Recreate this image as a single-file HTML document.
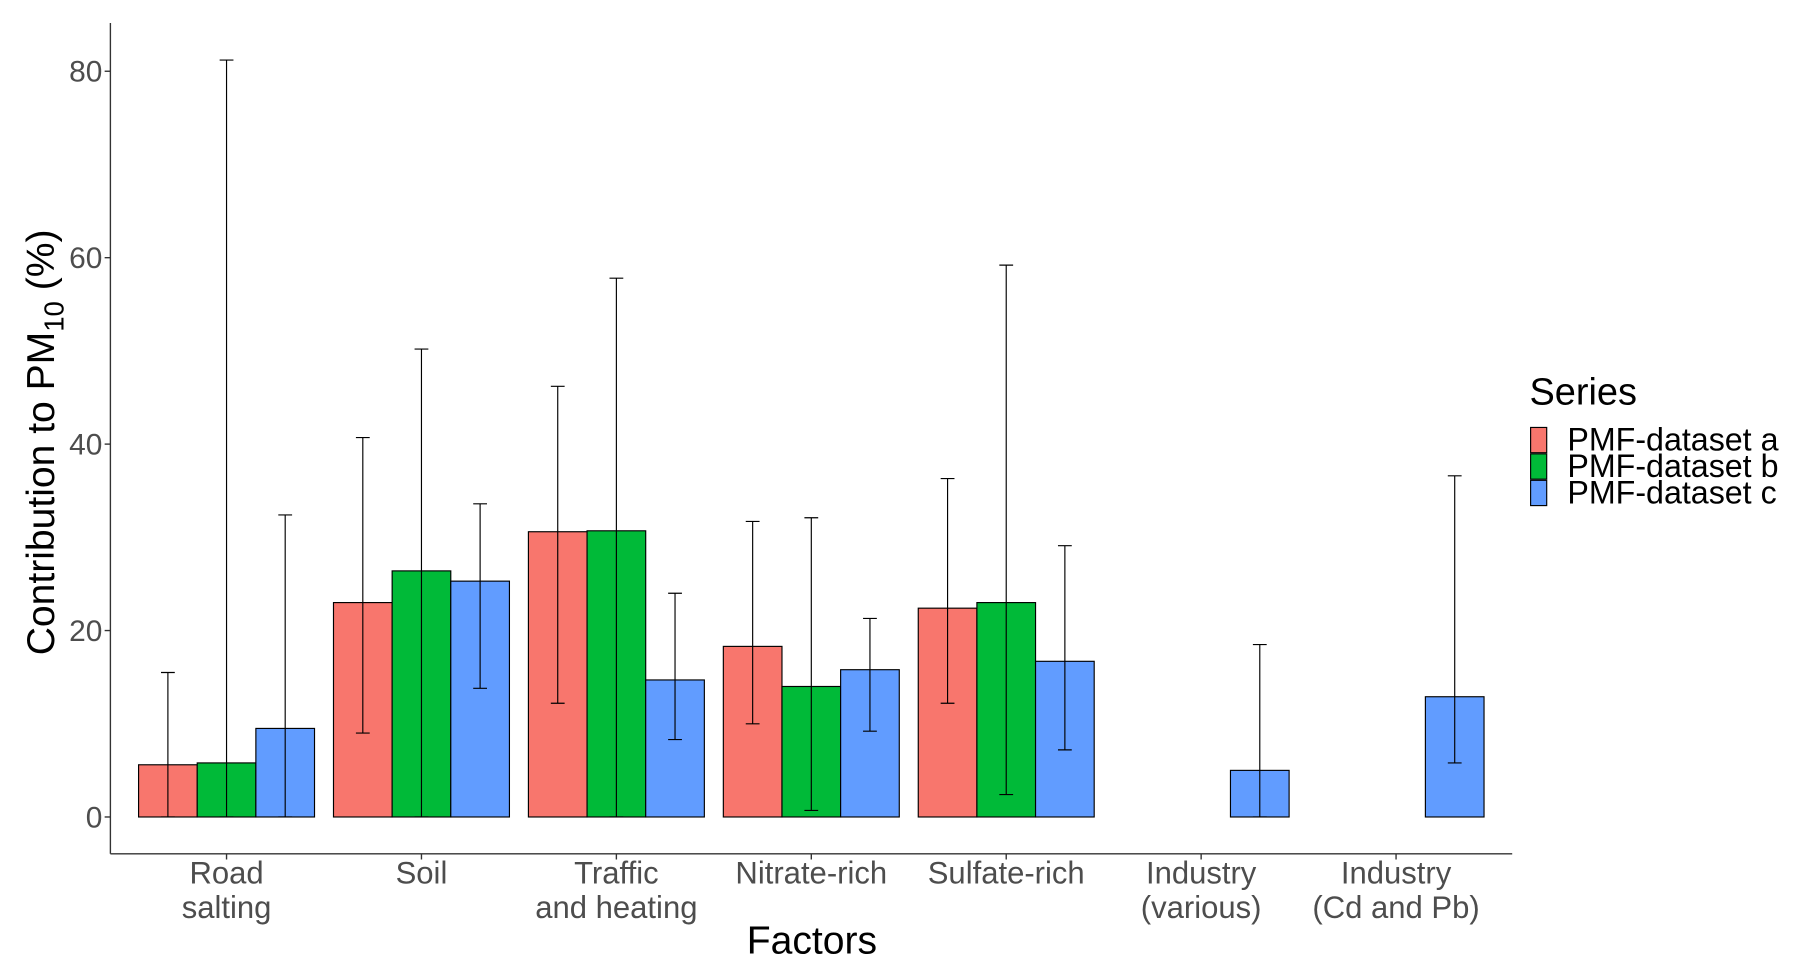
<!DOCTYPE html>
<html><head><meta charset="utf-8"><style>
html,body{margin:0;padding:0;background:#fff;}
svg{display:block;font-family:"Liberation Sans",sans-serif;}
</style></head><body>
<svg id="chart" width="1802" height="979" viewBox="0 0 1567 852" preserveAspectRatio="none" xmlns="http://www.w3.org/2000/svg">
<g id="plot"></g>
<line x1="96" y1="20" x2="96" y2="743" stroke="#333" stroke-width="1.2"/>
<line x1="96" y1="743" x2="1315" y2="743" stroke="#333" stroke-width="1.2"/>
<text x="706" y="830" text-anchor="middle" font-size="34">Factors</text>
<text transform="translate(47,385) rotate(-90)" text-anchor="middle" font-size="34">Contribution to PM<tspan font-size="24" dy="8">10</tspan><tspan dy="-8"> (%)</tspan></text>
<g>
<text x="1330" y="352" font-size="33">Series</text>
<rect x="1331" y="372" width="14" height="22" fill="#F8766D" stroke="#000" stroke-width="1"/>
<rect x="1331" y="395" width="14" height="22" fill="#00BA38" stroke="#000" stroke-width="1"/>
<rect x="1331" y="418" width="14" height="22" fill="#619CFF" stroke="#000" stroke-width="1"/>
<text x="1363" y="392" font-size="28">PMF-dataset a</text>
<text x="1363" y="415" font-size="28">PMF-dataset b</text>
<text x="1363" y="438" font-size="28">PMF-dataset c</text>
</g>
</svg>
<script>
const categories = [["Road","salting"],["Soil"],["Traffic","and heating"],["Nitrate-rich"],["Sulfate-rich"],["Industry","(various)"],["Industry","(Cd and Pb)"]];
const seriesA = [5.6, 23.0, 30.6, 18.3, 22.4, null, null];
const seriesB = [5.8, 26.4, 30.7, 14.0, 23.0, null, null];
const seriesC = [9.5, 25.3, 14.7, 15.8, 16.7, 5.0, 12.9];
const lowA = [0, 9.0, 12.2, 10.0, 12.2, null, null];
const highA = [15.5, 40.7, 46.2, 31.7, 36.3, null, null];
const lowB = [0, 0, 0, 0.7, 2.4, null, null];
const highB = [81.2, 50.2, 57.8, 32.1, 59.2, null, null];
const lowC = [0, 13.8, 8.3, 9.2, 7.2, 0, 5.8];
const highC = [32.4, 33.6, 24.0, 21.3, 29.1, 18.5, 36.6];
const yTicks = [0, 20, 40, 60, 80];

const NS = "http://www.w3.org/2000/svg";
const g = document.getElementById("plot");
const y = v => 711 - v * (711 - 62) / 80;
const xc = i => 197 + i * 169.5;
const bw = 51;
function mk(tag, attrs){const e=document.createElementNS(NS,tag);for(const k in attrs)e.setAttribute(k,attrs[k]);g.appendChild(e);return e;}

yTicks.forEach(t=>{
  const l=mk("line",{x1:91,x2:96,y1:y(t),y2:y(t),stroke:"#333","stroke-width":1.2});
  
  
  const tx=mk("text",{x:89,y:y(t)+9,"text-anchor":"end","font-size":26,fill:"#4d4d4d"});
  tx.textContent=t;
  
  
});
categories.forEach((c,i)=>{
  const l=mk("line",{x1:xc(i),x2:xc(i),y1:743,y2:748,stroke:"#333","stroke-width":1.2});
  
  
  c.forEach((s,j)=>{
    const tx=mk("text",{x:xc(i),y:769+j*30,"text-anchor":"middle","font-size":27,fill:"#4d4d4d"});
    tx.textContent=s;
    
    
  });
});
const series=[[seriesA,lowA,highA,"#F8766D","a"],[seriesB,lowB,highB,"#00BA38","b"],[seriesC,lowC,highC,"#619CFF","c"]];
series.forEach((s,k)=>{
  s[0].forEach((v,i)=>{
    if(v===null)return;
    const cx=xc(i)+(k-1)*bw;
    const r=mk("rect",{x:cx-bw/2,y:y(v),width:bw,height:y(0)-y(v),fill:s[3],stroke:"#000","stroke-width":1});
    
    
  });
});
series.forEach((s,k)=>{
  s[0].forEach((v,i)=>{
    if(v===null)return;
    const cx=xc(i)+(k-1)*bw;
    const lo=y(s[1][i]),hi=y(s[2][i]);
    const e=mk("path",{d:`M${cx},${lo}V${hi}M${cx-6},${lo}H${cx+6}M${cx-6},${hi}H${cx+6}`,stroke:"#000","stroke-width":1,fill:"none"});
    
    
  });
});
</script>
</body></html>
